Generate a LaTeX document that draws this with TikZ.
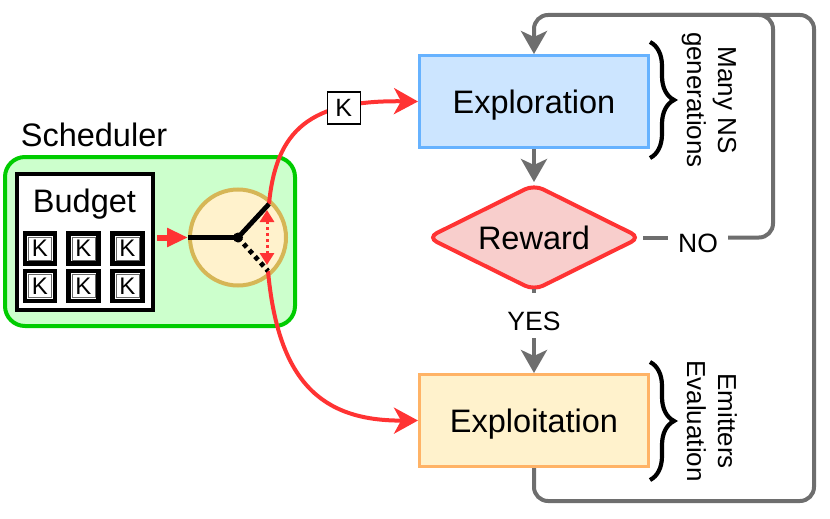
\documentclass[tikz,border=0pt]{standalone}
\usepackage{fontspec}
\setmainfont{Liberation Sans}
\usetikzlibrary{arrows.meta,shapes.geometric,decorations.pathreplacing}
\definecolor{grn}{RGB}{0,204,0}
\definecolor{grnfill}{RGB}{204,255,204}
\definecolor{circfill}{RGB}{255,242,204}
\definecolor{circdraw}{RGB}{214,182,86}
\definecolor{redc}{RGB}{255,51,51}
\definecolor{blfill}{RGB}{204,229,255}
\definecolor{bldraw}{RGB}{102,178,255}
\definecolor{pkfill}{RGB}{248,206,204}
\definecolor{orfill}{RGB}{255,242,204}
\definecolor{ordraw}{RGB}{255,179,102}
\definecolor{gry}{RGB}{110,110,110}
\begin{document}
\begin{tikzpicture}[x=1pt,y=-1pt,
  lbl/.style={font=\fontsize{32.5}{39}\selectfont},
  mainbox/.style={draw, line width=3pt, minimum width=229, minimum height=92, inner sep=0, text depth=0pt, font=\fontsize{32.5}{39}\selectfont},
  kbox/.style={draw=black, fill=white, line width=4.2pt, minimum size=30, inner sep=0, text depth=0pt, font=\fontsize{24}{29}\selectfont,
    path picture={\draw[line width=0.6pt, black!60] ([shift={(3.3pt,-3.3pt)}]path picture bounding box.north west) rectangle ([shift={(-3.3pt,3.3pt)}]path picture bounding box.south east);}},
  kcurve/.style={draw=black, fill=white, text=black, line width=1.2pt, minimum width=33, minimum height=32, inner sep=0, text depth=0pt, font=\fontsize{25}{30}\selectfont},
  redarrow/.style={redc, line width=4pt, -{Stealth[length=24pt,width=26pt,inset=7pt]}},
  gline/.style={gry, line width=4pt},
  garrow/.style={gry, line width=4pt, -{Stealth[length=23pt,width=26pt,inset=6pt]}},
  smalllbl/.style={font=\fontsize{26.5}{32}\selectfont},
  bracelbl/.style={rotate=-90, align=center, inner sep=0, font=\fontsize{26}{31}\selectfont},
  bracepath/.style={line width=4.2pt, decorate, decoration={brace, amplitude=24pt, aspect=0.5}}
]
\useasboundingbox (0,0) rectangle (830,519);

% scheduler
\node[anchor=base, lbl] (schedlbl) at (94,146) {Scheduler};
\node[draw=grn, fill=grnfill, line width=4pt, rounded corners=20pt, minimum width=290, minimum height=169] (sched) at (150,241.5) {};
\node[draw=black, fill=white, line width=4.5pt, minimum width=136, minimum height=136] (budget) at (85,242) {};
\node[anchor=base, lbl] (budgetlbl) at (84.5,212) {Budget};
\node[kbox] (k1) at (40,248.5) {K};
\node[kbox] (k2) at (83.5,248.5) {K};
\node[kbox] (k3) at (127.5,248.5) {K};
\node[kbox] (k4) at (40,286) {K};
\node[kbox] (k5) at (83.5,286) {K};
\node[kbox] (k6) at (127.5,286) {K};
\node[circle, draw=circdraw, fill=circfill, line width=4pt, minimum size=96, inner sep=0] (wheel) at (238,237.5) {};
\coordinate (hub) at (238,237.5);
\coordinate (hubup) at (269,204);
\coordinate (hubdn) at (268,271);

% main boxes
\node[mainbox, draw=bldraw, fill=blfill] (explor) at (534,101.5) {Exploration};
\node[mainbox, draw=ordraw, fill=orfill] (exploit) at (534,420.5) {Exploitation};
\node[diamond, aspect=2, draw=redc, fill=pkfill, line width=4pt, rounded corners=10pt, minimum width=214, minimum height=107, inner sep=0, text depth=0pt, lbl] (reward) at (534,237.5) {Reward};

% red connectors
\draw[redarrow] (hubup) .. controls (276,130) and (310,100) .. (explor.west) node[kcurve, pos=0.72] (kc) {K};
\draw[redarrow] (hubdn) .. controls (278,380) and (320,421) .. (exploit.west);
\draw[redc, line width=6pt, -{Triangle[length=21pt,width=18pt]}, shorten <=2pt] (budget.east |- wheel.west) -- (wheel.west);

% wheel hands
\draw[line width=4.8pt] (wheel.west) -- (hub) -- (hubup);
\draw[line width=4.8pt, dash pattern=on 4.5pt off 4pt] (hub) -- (hubdn);
\node[circle, fill=black, inner sep=0, minimum size=10] (hubdot) at (hub) {};
\coordinate (da1) at (267,210);
\coordinate (da2) at (267,265);
\draw[redc, line width=3pt, dash pattern=on 3pt off 3pt, {Triangle[length=12pt,width=14pt]}-{Triangle[length=12pt,width=14pt]}] (da1) -- (da2);

% flow
\draw[garrow] (explor.south) -- (reward.north);
\node[anchor=base, smalllbl, inner sep=0] (yes) at (534,330) {YES};
\draw[gline, shorten >=18pt, shorten <=-4pt] (reward.south) -- (yes.north);
\draw[garrow, shorten <=8pt] (yes.south) -- (exploit.north);

\node[anchor=base, smalllbl, inner xsep=10pt, inner ysep=0] (no) at (698,252) {NO};
\coordinate (noR) at (773,237.5);
\coordinate (topR) at (773,15);
\coordinate (topL) at (534,15);
\coordinate (botL) at (534,501);
\coordinate (botR) at (814,501);
\coordinate (outTop) at (814,15);
\coordinate (outEnd) at (650,15);
\draw[gline] (reward.east) -- (reward.east -| no.west);
\draw[garrow, rounded corners=14pt] (reward.east -| no.east) -- (noR) -- (topR) -- (topL) -- (explor.north);
\draw[gline, rounded corners=14pt] (exploit.south) -- (botL) -- (botR) -- (outTop) -- (outEnd);

% braces
\coordinate (br1a) at (650,42);
\coordinate (br1b) at (650,158);
\coordinate (br2a) at (650,362);
\coordinate (br2b) at (650,480);
\draw[bracepath] (br1a) -- (br1b);
\draw[bracepath] (br2a) -- (br2b);
\node[bracelbl] (lab1) at (709,100) {Many NS\\generations};
\node[bracelbl] (lab2) at (712,421) {Emitters\\Evaluation};
\end{tikzpicture}
\end{document}
